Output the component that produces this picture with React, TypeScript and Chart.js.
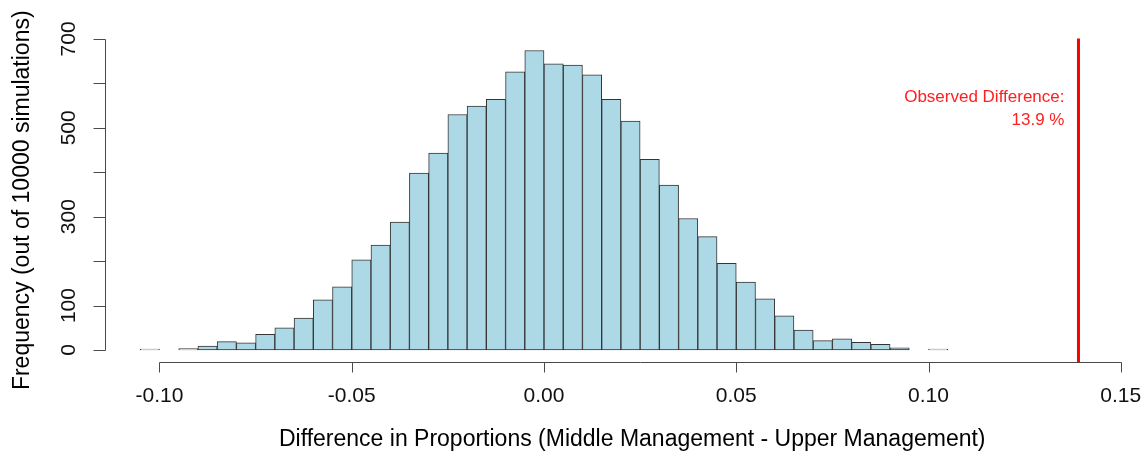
import React, { useEffect, useRef } from 'react';
import { Chart, registerables } from 'chart.js';

Chart.register(...registerables);

// Histogram bins (midpoints of 0.005-wide bins from -0.105 to 0.105)
const binMids = [
  -0.1025, -0.0975, -0.0925, -0.0875, -0.0825, -0.0775, -0.0725, -0.0675, -0.0625, -0.0575,
  -0.0525, -0.0475, -0.0425, -0.0375, -0.0325, -0.0275, -0.0225, -0.0175, -0.0125, -0.0075,
  -0.0025, 0.0025, 0.0075, 0.0125, 0.0175, 0.0225, 0.0275, 0.0325, 0.0375, 0.0425,
  0.0475, 0.0525, 0.0575, 0.0625, 0.0675, 0.0725, 0.0775, 0.0825, 0.0875, 0.0925,
  0.0975, 0.1025,
];

const counts = [
  2, 0, 3, 9, 19, 16, 35, 50, 72, 113,
  142, 203, 236, 288, 398, 443, 530, 549, 564, 626,
  674, 644, 641, 619, 564, 515, 429, 371, 296, 255,
  195, 153, 115, 77, 45, 21, 25, 17, 13, 5,
  0, 2,
];

const xTickValues = [-0.1, -0.05, 0.0, 0.05, 0.1, 0.15];
const xTickLabels = ['-0.10', '-0.05', '0.00', '0.05', '0.10', '0.15'];
const yTickValues = [0, 100, 200, 300, 400, 500, 600, 700];
const yTickLabels = ['0', '100', '', '300', '', '500', '', '700'];

const observedDifference = 0.139;
const observedLabelLines = ['Observed Difference:', '13.9 %'];
const observedLabelYValues = [568, 518];

const xTitle = 'Difference in Proportions (Middle Management - Upper Management)';
const yTitle = 'Frequency (out of 10000 simulations)';

const FONT = '"Liberation Sans", Arial, sans-serif';

const rPlotPlugin = {
  id: 'rPlot',
  afterDatasetsDraw(chart: any) {
    const { ctx, chartArea, scales } = chart;
    const x = scales.x;
    const y = scales.y;
    ctx.save();
    // observed difference line
    const px = x.getPixelForValue(observedDifference);
    ctx.strokeStyle = '#FF0000';
    ctx.lineWidth = 3;
    ctx.beginPath();
    ctx.moveTo(px, chartArea.top);
    ctx.lineTo(px, chartArea.bottom);
    ctx.stroke();

    ctx.fillStyle = '#FF2020';
    ctx.font = `17px ${FONT}`;
    ctx.textAlign = 'right';
    ctx.textBaseline = 'middle';
    observedLabelLines.forEach((t, i) => {
      ctx.fillText(t, px - 14, y.getPixelForValue(observedLabelYValues[i]));
    });
    ctx.restore();
  },
  afterDraw(chart: any) {
    const { ctx, chartArea, scales } = chart;
    const x = scales.x;
    const y = scales.y;
    ctx.save();
    ctx.strokeStyle = '#4a4a4a';
    ctx.lineWidth = 1;

    // X axis
    const ax = Math.round(chartArea.bottom) + 0.5;
    const x0 = x.getPixelForValue(xTickValues[0]);
    const x1 = x.getPixelForValue(xTickValues[xTickValues.length - 1]);
    ctx.beginPath();
    ctx.moveTo(Math.round(x0) + 0.5, ax);
    ctx.lineTo(Math.round(x1) + 0.5, ax);
    xTickValues.forEach((v) => {
      const p = Math.round(x.getPixelForValue(v)) + 0.5;
      ctx.moveTo(p, ax);
      ctx.lineTo(p, ax + 10);
    });
    ctx.stroke();

    ctx.fillStyle = '#111';
    ctx.font = `21px ${FONT}`;
    ctx.textAlign = 'center';
    ctx.textBaseline = 'middle';
    xTickValues.forEach((v, i) => {
      ctx.fillText(xTickLabels[i], x.getPixelForValue(v), chartArea.bottom + 34);
    });

    // Y axis
    const ay = Math.round(chartArea.left) + 0.5;
    const y0 = y.getPixelForValue(yTickValues[0]);
    const y1 = y.getPixelForValue(yTickValues[yTickValues.length - 1]);
    ctx.beginPath();
    ctx.moveTo(ay, Math.round(y0) + 0.5);
    ctx.lineTo(ay, Math.round(y1) + 0.5);
    yTickValues.forEach((v) => {
      const p = Math.round(y.getPixelForValue(v)) + 0.5;
      ctx.moveTo(ay, p);
      ctx.lineTo(ay - 12, p);
    });
    ctx.stroke();

    yTickValues.forEach((v, i) => {
      const lbl = yTickLabels[i];
      if (!lbl) return;
      ctx.save();
      ctx.translate(chartArea.left - 35, y.getPixelForValue(v));
      ctx.rotate(-Math.PI / 2);
      ctx.fillText(lbl, 0, 0);
      ctx.restore();
    });

    // Titles
    ctx.fillStyle = '#000';
    ctx.font = `23px ${FONT}`;
    ctx.fillText(xTitle, (chartArea.left + chartArea.right) / 2, chartArea.bottom + 78);
    ctx.save();
    ctx.translate(chartArea.left - 82, (chartArea.top + chartArea.bottom) / 2);
    ctx.rotate(-Math.PI / 2);
    ctx.fillText(yTitle, 0, 0);
    ctx.restore();

    ctx.restore();
  },
};

export default function App() {
  const canvasRef = useRef<HTMLCanvasElement | null>(null);

  useEffect(() => {
    const canvas = canvasRef.current;
    if (!canvas) return;
    const chart = new Chart(canvas, {
      type: 'bar',
      data: {
        datasets: [
          {
            data: binMids.map((m, i) => ({ x: m, y: counts[i] })),
            backgroundColor: '#ADD8E6',
            borderColor: '#353535',
            borderWidth: 1,
            borderSkipped: false,
            barPercentage: 1,
            categoryPercentage: 1,
          },
        ],
      },
      options: {
        responsive: false,
        maintainAspectRatio: false,
        animation: false,
        events: [],
        layout: {
          padding: { left: 104.5, right: 10, top: 38.5, bottom: 97 },
        },
        plugins: {
          legend: { display: false },
          tooltip: { enabled: false },
        },
        scales: {
          x: {
            type: 'linear',
            offset: false,
            min: -0.1143,
            max: 0.1602,
            display: false,
          },
          y: {
            type: 'linear',
            min: -27,
            max: 701,
            display: false,
          },
        },
      },
      plugins: [rPlotPlugin],
    });
    return () => chart.destroy();
  }, []);

  return (
    <div
      style={{
        position: 'absolute',
        left: 0,
        top: 0,
        width: 1148,
        height: 459,
        overflow: 'hidden',
        background: '#fff',
      }}
    >
      <canvas ref={canvasRef} width={1170} height={459} style={{ display: 'block' }} />
    </div>
  );
}
